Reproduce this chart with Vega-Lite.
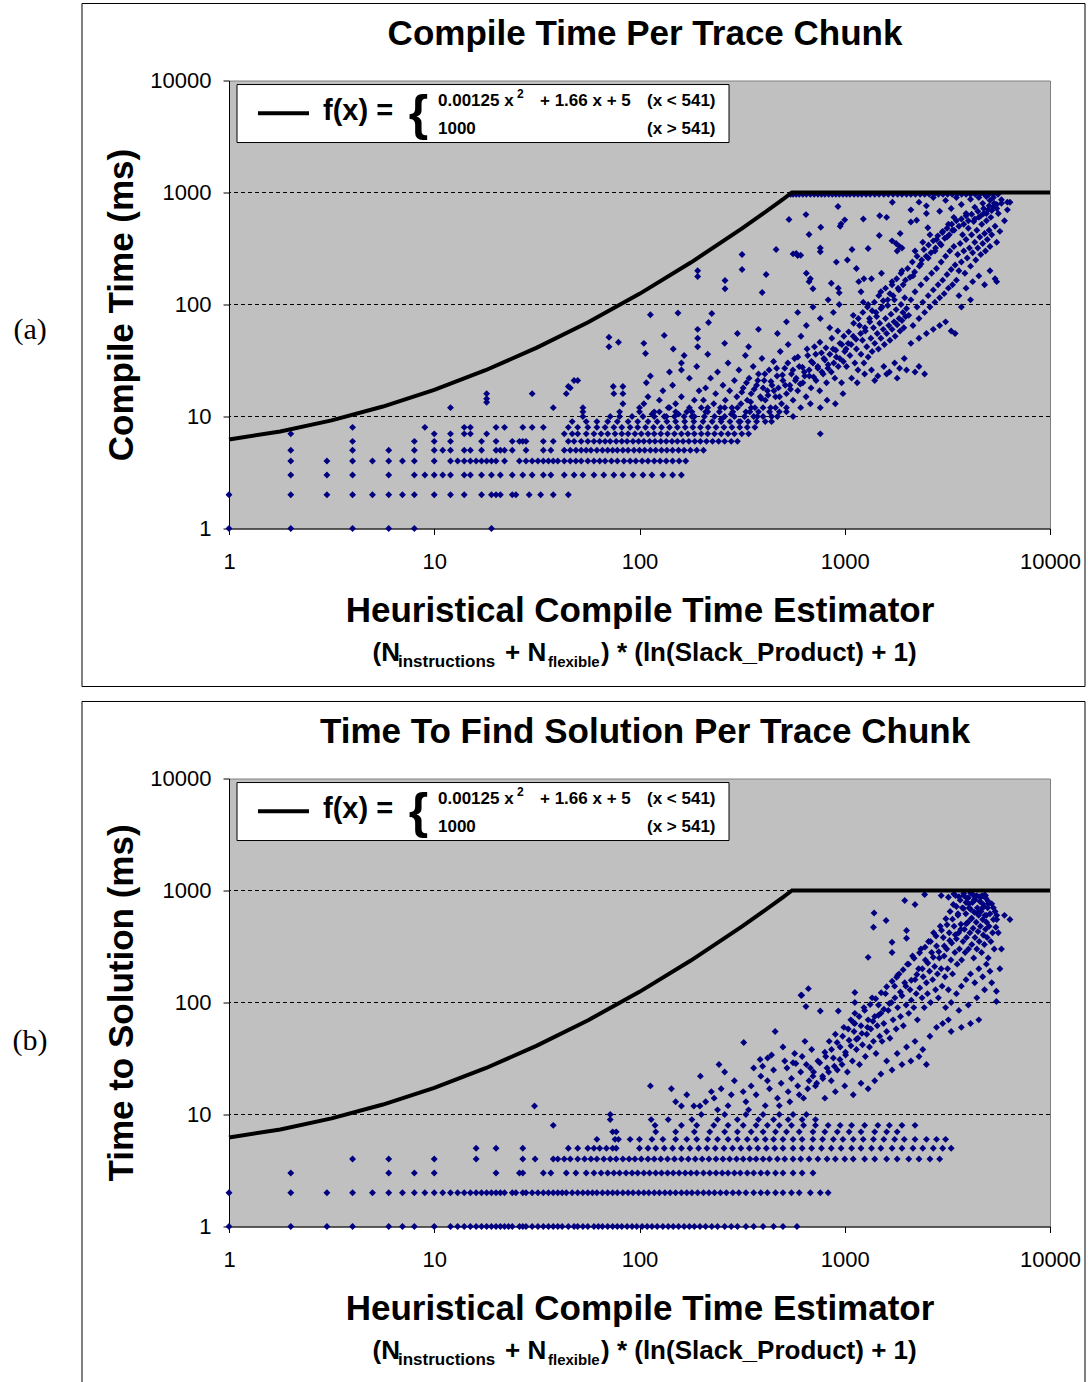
{"$schema":"https://vega.github.io/schema/vega-lite/v6.json","padding":{"left":12,"top":1.5,"right":0,"bottom":0},"background":"white","spacing":11,
"config":{"font":"Liberation Sans","view":{"fill":"#C0C0C0","stroke":"#808080","strokeWidth":1},
"axis":{"labelFont":"Liberation Sans","labelFontSize":22,"labelColor":"#000","labelFlush":false,"labelOverlap":false,"tickColor":"#000","tickSize":6,"tickWidth":1,"domainColor":"#000","domainWidth":1,"grid":false,"titleFont":"Liberation Sans","titleFontSize":35,"titleFontWeight":"bold","titleColor":"#000"},
"axisX":{"labelPadding":17,"titlePadding":21},"axisY":{"labelPadding":12,"titlePadding":10}},
"datasets":{
"curve":[{"x":1,"y":6.24},{"x":1.778,"y":7.36},{"x":3.162,"y":9.23},{"x":5.623,"y":12.27},{"x":10,"y":17.3},{"x":17.78,"y":25.9},{"x":31.62,"y":41.2},{"x":56.23,"y":69.5},{"x":100,"y":124.5},{"x":177.8,"y":236.8},{"x":316.2,"y":477.5},{"x":398.1,"y":643},{"x":501.2,"y":873.7},{"x":553.4,"y":1000},{"x":10000,"y":1000}],
"a":[
{"x":1,"y":1},{"x":2,"y":1},{"x":4,"y":1},{"x":6,"y":1},{"x":8,"y":1},{"x":19,"y":1},
{"x":1,"y":2},{"x":2,"y":2},{"x":3,"y":2},{"x":4,"y":2},{"x":5,"y":2},{"x":6,"y":2},{"x":7,"y":2},{"x":8,"y":2},{"x":10,"y":2},{"x":12,"y":2},{"x":14,"y":2},{"x":17,"y":2},{"x":19,"y":2},{"x":20,"y":2},{"x":21,"y":2},{"x":24,"y":2},{"x":25,"y":2},{"x":29,"y":2},{"x":33,"y":2},{"x":38,"y":2},{"x":45,"y":2},
{"x":2,"y":3},{"x":3,"y":3},{"x":4,"y":3},{"x":6,"y":3},{"x":8,"y":3},{"x":9,"y":3},{"x":10,"y":3},{"x":11,"y":3},{"x":12,"y":3},{"x":14,"y":3},{"x":15,"y":3},{"x":17,"y":3},{"x":19,"y":3},{"x":21,"y":3},{"x":24,"y":3},{"x":27,"y":3},{"x":30,"y":3},{"x":34,"y":3},{"x":37,"y":3},{"x":43,"y":3},{"x":48,"y":3},{"x":53,"y":3},{"x":60,"y":3},{"x":67,"y":3},{"x":75,"y":3},{"x":83,"y":3},{"x":93,"y":3},{"x":104,"y":3},{"x":115,"y":3},{"x":130,"y":3},{"x":145,"y":3},{"x":160,"y":3},
{"x":2,"y":4},{"x":3,"y":4},{"x":4,"y":4},{"x":5,"y":4},{"x":6,"y":4},{"x":7,"y":4},{"x":8,"y":4},{"x":10,"y":4},{"x":12,"y":4},{"x":13,"y":4},{"x":14,"y":4},{"x":15,"y":4},{"x":16,"y":4},{"x":17,"y":4},{"x":18,"y":4},{"x":19,"y":4},{"x":20,"y":4},{"x":22,"y":4},{"x":26,"y":4},{"x":28,"y":4},{"x":30,"y":4},{"x":32,"y":4},{"x":34,"y":4},{"x":36,"y":4},{"x":38,"y":4},{"x":40,"y":4},{"x":43,"y":4},{"x":46,"y":4},{"x":49,"y":4},{"x":52,"y":4},{"x":56,"y":4},{"x":60,"y":4},{"x":64,"y":4},{"x":68,"y":4},{"x":73,"y":4},{"x":78,"y":4},{"x":84,"y":4},{"x":90,"y":4},{"x":96,"y":4},{"x":103,"y":4},{"x":110,"y":4},{"x":118,"y":4},{"x":126,"y":4},{"x":135,"y":4},{"x":145,"y":4},{"x":156,"y":4},{"x":168,"y":4},
{"x":2,"y":5},{"x":4,"y":5},{"x":6,"y":5},{"x":8,"y":5},{"x":10,"y":5},{"x":11,"y":5},{"x":12,"y":5},{"x":14,"y":5},{"x":15,"y":5},{"x":17,"y":5},{"x":20,"y":5},{"x":21,"y":5},{"x":22,"y":5},{"x":24,"y":5},{"x":28,"y":5},{"x":34,"y":5},{"x":37,"y":5},{"x":43,"y":5},{"x":46,"y":5},{"x":49,"y":5},{"x":52,"y":5},{"x":55,"y":5},{"x":58,"y":5},{"x":62,"y":5},{"x":66,"y":5},{"x":70,"y":5},{"x":74,"y":5},{"x":78,"y":5},{"x":83,"y":5},{"x":88,"y":5},{"x":94,"y":5},{"x":100,"y":5},{"x":106,"y":5},{"x":113,"y":5},{"x":120,"y":5},{"x":128,"y":5},{"x":136,"y":5},{"x":145,"y":5},{"x":155,"y":5},{"x":165,"y":5},{"x":177,"y":5},{"x":190,"y":5},{"x":205,"y":5},
{"x":4,"y":6},{"x":8,"y":6},{"x":10,"y":6},{"x":12,"y":6},{"x":17,"y":6},{"x":20,"y":6},{"x":24,"y":6},{"x":26,"y":6},{"x":27,"y":6},{"x":28,"y":6},{"x":34,"y":6},{"x":38,"y":6},{"x":45,"y":6},{"x":48,"y":6},{"x":52,"y":6},{"x":56,"y":6},{"x":60,"y":6},{"x":64,"y":6},{"x":68,"y":6},{"x":72,"y":6},{"x":77,"y":6},{"x":82,"y":6},{"x":87,"y":6},{"x":93,"y":6},{"x":99,"y":6},{"x":105,"y":6},{"x":112,"y":6},{"x":119,"y":6},{"x":127,"y":6},{"x":135,"y":6},{"x":144,"y":6},{"x":153,"y":6},{"x":163,"y":6},{"x":174,"y":6},{"x":186,"y":6},{"x":198,"y":6},{"x":212,"y":6},{"x":227,"y":6},{"x":243,"y":6},{"x":260,"y":6},{"x":280,"y":6},{"x":300,"y":6},
{"x":2,"y":7},{"x":10,"y":7},{"x":12,"y":7},{"x":14,"y":7},{"x":15,"y":7},{"x":18,"y":7},{"x":43,"y":7},{"x":47,"y":7},{"x":50,"y":7},{"x":55,"y":7},{"x":60,"y":7},{"x":65,"y":7},{"x":70,"y":7},{"x":76,"y":7},{"x":82,"y":7},{"x":88,"y":7},{"x":95,"y":7},{"x":102,"y":7},{"x":110,"y":7},{"x":118,"y":7},{"x":127,"y":7},{"x":137,"y":7},{"x":148,"y":7},{"x":160,"y":7},{"x":172,"y":7},{"x":185,"y":7},{"x":200,"y":7},{"x":215,"y":7},{"x":232,"y":7},{"x":250,"y":7},{"x":270,"y":7},{"x":290,"y":7},{"x":315,"y":7},{"x":340,"y":7},
{"x":4,"y":8},{"x":9,"y":8},{"x":14,"y":8},{"x":15,"y":8},{"x":20,"y":8},{"x":22,"y":8},{"x":27,"y":8},{"x":30,"y":8},{"x":34,"y":8},{"x":45,"y":8},{"x":50,"y":8},{"x":56,"y":8},{"x":62,"y":8},{"x":68,"y":8},{"x":75,"y":8},{"x":82,"y":8},{"x":90,"y":8},{"x":98,"y":8},{"x":107,"y":8},{"x":117,"y":8},{"x":128,"y":8},{"x":140,"y":8},{"x":153,"y":8},{"x":167,"y":8},{"x":182,"y":8},{"x":198,"y":8},{"x":216,"y":8},{"x":236,"y":8},{"x":258,"y":8},{"x":282,"y":8},{"x":308,"y":8},{"x":335,"y":8},{"x":365,"y":8},
{"x":47,"y":9},{"x":55,"y":9},{"x":62,"y":9},{"x":70,"y":9},{"x":78,"y":9},{"x":88,"y":9},{"x":98,"y":9},{"x":110,"y":9},{"x":122,"y":9},{"x":136,"y":9},{"x":150,"y":9},{"x":166,"y":9},{"x":184,"y":9},{"x":204,"y":9},{"x":226,"y":9},{"x":250,"y":9},{"x":276,"y":9},{"x":305,"y":9},{"x":338,"y":9},{"x":372,"y":9},{"x":410,"y":9},
{"x":53,"y":10},{"x":72,"y":10},{"x":80,"y":10},{"x":92,"y":10},{"x":104,"y":10},{"x":118,"y":10},{"x":132,"y":10},{"x":148,"y":10},{"x":165,"y":10},{"x":185,"y":10},{"x":207,"y":10},{"x":232,"y":10},{"x":260,"y":10},{"x":290,"y":10},{"x":325,"y":10},{"x":360,"y":10},{"x":400,"y":10},{"x":440,"y":10},
{"x":80,"y":11},{"x":100,"y":11},{"x":125,"y":11},{"x":150,"y":11},{"x":180,"y":11},{"x":210,"y":11},{"x":245,"y":11},{"x":285,"y":11},{"x":330,"y":11},{"x":380,"y":11},{"x":430,"y":11},{"x":480,"y":11},
{"x":12,"y":12},{"x":38,"y":12},{"x":53,"y":12},{"x":100,"y":12},{"x":140,"y":12},{"x":175,"y":12},{"x":215,"y":12},{"x":260,"y":12},{"x":300,"y":12},{"x":350,"y":12},{"x":400,"y":12},{"x":460,"y":12},{"x":520,"y":12},
{"x":18,"y":16},{"x":18,"y":14.4},{"x":18,"y":13.4},{"x":30,"y":16},{"x":44,"y":16},{"x":45,"y":18.5},{"x":48,"y":21},{"x":74.5,"y":18.5},{"x":83,"y":18.5},{"x":83,"y":16},{"x":83,"y":13},{"x":46,"y":18},{"x":50,"y":21},{"x":53,"y":11},{"x":71,"y":51},{"x":71,"y":42},{"x":79,"y":46},{"x":75,"y":16},{"x":113,"y":81},{"x":113,"y":23},{"x":105,"y":45},{"x":107,"y":36.5},{"x":132,"y":53},{"x":146,"y":40},{"x":154,"y":84},{"x":160,"y":30},{"x":160,"y":26},{"x":192,"y":200},{"x":192,"y":178},{"x":261,"y":164},{"x":261,"y":138},{"x":316,"y":280},{"x":316,"y":205},{"x":225,"y":83},{"x":217,"y":69},{"x":192,"y":60},{"x":192,"y":50},{"x":192,"y":42},{"x":414,"y":185},{"x":396,"y":128},{"x":463,"y":310},{"x":535,"y":575},{"x":580,"y":285},{"x":610,"y":275},{"x":647,"y":635},{"x":764,"y":490},{"x":950,"y":500},{"x":960,"y":525},{"x":1000,"y":570},{"x":927,"y":750},{"x":1706,"y":819},{"x":6380,"y":819},{"x":1232,"y":580},{"x":1480,"y":620},{"x":1600,"y":600},{"x":670,"y":422},{"x":1473,"y":413},{"x":1862,"y":430},{"x":2500,"y":650},{"x":2240,"y":565},{"x":2100,"y":545},{"x":2540,"y":485},{"x":1700,"y":370},{"x":1780,"y":350},{"x":1850,"y":330},{"x":1900,"y":320},{"x":1800,"y":300},{"x":1300,"y":316},{"x":1085,"y":310},{"x":760,"y":320},{"x":760,"y":296},{"x":560,"y":283},{"x":590,"y":274},{"x":650,"y":190},{"x":680,"y":170},{"x":700,"y":138},{"x":670,"y":160},{"x":910,"y":239},{"x":1030,"y":250},{"x":1140,"y":210},{"x":1240,"y":170},{"x":930,"y":140},{"x":940,"y":127},{"x":860,"y":155},{"x":1170,"y":160},{"x":1200,"y":130},{"x":1230,"y":105},{"x":1350,"y":170},{"x":1510,"y":190},{"x":760,"y":7},
{"x":105,"y":13},{"x":110,"y":15},{"x":118,"y":11},{"x":125,"y":14},{"x":130,"y":17},{"x":138,"y":12},{"x":145,"y":19},{"x":150,"y":13},{"x":160,"y":15},{"x":170,"y":11},{"x":175,"y":22},{"x":185,"y":14},{"x":195,"y":17},{"x":200,"y":12},{"x":108,"y":20},{"x":140,"y":25},{"x":190,"y":28},{"x":165,"y":35},{"x":115,"y":10.5},{"x":135,"y":10},{"x":155,"y":10.5},{"x":180,"y":10},
{"x":205,"y":14},{"x":210,"y":18},{"x":215,"y":11},{"x":222,"y":22},{"x":230,"y":13},{"x":235,"y":16},{"x":240,"y":25},{"x":248,"y":12},{"x":255,"y":19},{"x":262,"y":14},{"x":270,"y":30},{"x":275,"y":17},{"x":282,"y":12},{"x":290,"y":21},{"x":298,"y":15},{"x":305,"y":26},{"x":312,"y":13},{"x":320,"y":18},{"x":328,"y":35},{"x":335,"y":14},{"x":342,"y":22},{"x":350,"y":16},{"x":358,"y":28},{"x":365,"y":12},{"x":372,"y":19},{"x":380,"y":24},{"x":388,"y":15},{"x":395,"y":33},{"x":400,"y":18},{"x":215,"y":36},{"x":260,"y":45},{"x":300,"y":55},{"x":340,"y":42},{"x":380,"y":60},{"x":250,"y":9.5},{"x":280,"y":10.5},{"x":310,"y":9},{"x":345,"y":11},{"x":375,"y":10},
{"x":405,"y":21},{"x":410,"y":14},{"x":420,"y":17},{"x":428,"y":26},{"x":435,"y":12},{"x":442,"y":19},{"x":450,"y":31},{"x":460,"y":15},{"x":468,"y":23},{"x":475,"y":18},{"x":485,"y":38},{"x":492,"y":13},{"x":500,"y":21},{"x":510,"y":27},{"x":520,"y":16},{"x":530,"y":44},{"x":540,"y":19},{"x":550,"y":24},{"x":560,"y":14},{"x":570,"y":33},{"x":580,"y":22},{"x":590,"y":17},{"x":600,"y":28},{"x":612,"y":52},{"x":625,"y":20},{"x":635,"y":25},{"x":648,"y":15},{"x":660,"y":35},{"x":672,"y":23},{"x":685,"y":18},{"x":700,"y":30},{"x":712,"y":42},{"x":725,"y":21},{"x":740,"y":27},{"x":755,"y":17},{"x":770,"y":37},{"x":785,"y":24},{"x":800,"y":32},{"x":815,"y":20},{"x":830,"y":29},{"x":845,"y":62},{"x":860,"y":25},{"x":878,"y":40},{"x":895,"y":22},{"x":910,"y":34},{"x":930,"y":28},{"x":948,"y":45},{"x":965,"y":20},{"x":985,"y":31},{"x":1000,"y":38},{"x":440,"y":9},{"x":470,"y":10},{"x":520,"y":11},{"x":560,"y":10},{"x":610,"y":12},{"x":680,"y":13},{"x":760,"y":12},{"x":820,"y":14},{"x":900,"y":13},{"x":980,"y":16},{"x":470,"y":55},{"x":520,"y":70},{"x":590,"y":85},{"x":650,"y":65},{"x":700,"y":95},{"x":760,"y":75},{"x":830,"y":110},{"x":880,"y":85},{"x":940,"y":100},
{"x":1020,"y":28},{"x":1040,"y":45},{"x":1060,"y":35},{"x":1080,"y":22},{"x":1100,"y":52},{"x":1120,"y":30},{"x":1140,"y":40},{"x":1160,"y":26},{"x":1180,"y":65},{"x":1200,"y":36},{"x":1220,"y":48},{"x":1240,"y":30},{"x":1260,"y":58},{"x":1280,"y":42},{"x":1300,"y":34},{"x":1320,"y":75},{"x":1340,"y":50},{"x":1360,"y":38},{"x":1380,"y":62},{"x":1400,"y":45},{"x":1420,"y":85},{"x":1440,"y":55},{"x":1460,"y":40},{"x":1480,"y":68},{"x":1500,"y":50},{"x":1520,"y":95},{"x":1540,"y":60},{"x":1560,"y":44},{"x":1580,"y":75},{"x":1600,"y":55},{"x":1620,"y":110},{"x":1640,"y":65},{"x":1660,"y":48},{"x":1680,"y":82},{"x":1700,"y":60},{"x":1720,"y":120},{"x":1740,"y":70},{"x":1760,"y":52},{"x":1780,"y":90},{"x":1800,"y":66},{"x":1820,"y":140},{"x":1840,"y":75},{"x":1860,"y":58},{"x":1880,"y":100},{"x":1900,"y":72},{"x":1920,"y":85},{"x":1940,"y":62},{"x":1960,"y":115},{"x":1980,"y":78},{"x":2000,"y":92},{"x":1150,"y":20},{"x":1250,"y":24},{"x":1350,"y":26},{"x":1450,"y":23},{"x":1550,"y":28},{"x":1650,"y":25},{"x":1750,"y":30},{"x":1850,"y":27},{"x":1950,"y":33},{"x":1100,"y":80},{"x":1300,"y":100},{"x":1500,"y":130},{"x":1700,"y":160},{"x":1900,"y":200},{"x":1400,"y":21},{"x":1600,"y":24},{"x":1800,"y":22},{"x":2000,"y":26},{"x":2200,"y":25},{"x":2450,"y":24},{"x":2300,"y":28},
{"x":2050,"y":80},{"x":2100,"y":110},{"x":2150,"y":65},{"x":2200,"y":130},{"x":2250,"y":95},{"x":2300,"y":75},{"x":2350,"y":150},{"x":2400,"y":105},{"x":2450,"y":85},{"x":2500,"y":170},{"x":2550,"y":120},{"x":2600,"y":95},{"x":2650,"y":190},{"x":2700,"y":135},{"x":2750,"y":105},{"x":2800,"y":210},{"x":2850,"y":150},{"x":2900,"y":115},{"x":2950,"y":240},{"x":3000,"y":165},{"x":3050,"y":125},{"x":3100,"y":270},{"x":3150,"y":185},{"x":3200,"y":140},{"x":3250,"y":300},{"x":3300,"y":205},{"x":3350,"y":150},{"x":3400,"y":330},{"x":3450,"y":225},{"x":3500,"y":165},{"x":2100,"y":45},{"x":2300,"y":50},{"x":2500,"y":55},{"x":2700,"y":60},{"x":2900,"y":65},{"x":3100,"y":70},{"x":3300,"y":58},{"x":3450,"y":55},{"x":2200,"y":300},{"x":2400,"y":360},{"x":2600,"y":420},{"x":2800,"y":380},{"x":3000,"y":450},{"x":3200,"y":520},{"x":3400,"y":600},{"x":2150,"y":180},{"x":2350,"y":230},{"x":2550,"y":260},{"x":2750,"y":300},{"x":2950,"y":340},{"x":3150,"y":400},{"x":3350,"y":460},
{"x":3550,"y":280},{"x":3600,"y":200},{"x":3650,"y":350},{"x":3700,"y":240},{"x":3750,"y":420},{"x":3800,"y":300},{"x":3850,"y":190},{"x":3900,"y":380},{"x":3950,"y":260},{"x":4000,"y":480},{"x":4050,"y":320},{"x":4100,"y":220},{"x":4150,"y":420},{"x":4200,"y":290},{"x":4250,"y":550},{"x":4300,"y":360},{"x":4350,"y":250},{"x":4400,"y":460},{"x":4450,"y":320},{"x":4500,"y":600},{"x":4550,"y":400},{"x":4600,"y":280},{"x":4650,"y":520},{"x":4700,"y":350},{"x":4750,"y":650},{"x":4800,"y":430},{"x":4850,"y":300},{"x":4900,"y":560},{"x":4950,"y":380},{"x":5000,"y":700},{"x":5050,"y":460},{"x":5100,"y":330},{"x":5150,"y":600},{"x":5200,"y":420},{"x":5300,"y":750},{"x":5400,"y":500},{"x":5500,"y":360},{"x":5600,"y":650},{"x":5700,"y":450},{"x":5800,"y":800},{"x":6000,"y":560},{"x":6200,"y":700},{"x":3600,"y":120},{"x":3900,"y":140},{"x":4200,"y":160},{"x":4500,"y":180},{"x":4800,"y":150},{"x":5100,"y":200},{"x":5400,"y":170},{"x":5500,"y":160},{"x":3700,"y":95},{"x":4100,"y":110},
{"x":2100,"y":700},{"x":2300,"y":820},{"x":2500,"y":760},{"x":2700,"y":900},{"x":2900,"y":680},{"x":3100,"y":850},{"x":3300,"y":720},{"x":3500,"y":900},{"x":3700,"y":780},{"x":3900,"y":650},{"x":4100,"y":870},{"x":4300,"y":740},{"x":4500,"y":900},{"x":4700,"y":800},{"x":4900,"y":920},{"x":5100,"y":850},{"x":5300,"y":900},{"x":5500,"y":780},{"x":5800,"y":860},{"x":6200,"y":820},
{"x":315,"y":16.5},{"x":332,"y":20},{"x":348,"y":13.5},{"x":362,"y":17.5},{"x":377,"y":21},{"x":392,"y":14.5},{"x":408,"y":24},{"x":423,"y":15.5},{"x":437,"y":20.5},{"x":452,"y":17},{"x":466,"y":27},{"x":481,"y":15},{"x":497,"y":23.5},{"x":513,"y":19},{"x":528,"y":30},{"x":544,"y":17.5},{"x":559,"y":26},{"x":575,"y":21},{"x":591,"y":34},{"x":607,"y":19.5},{"x":622,"y":27.5},{"x":638,"y":23},{"x":655,"y":40},{"x":671,"y":26},{"x":688,"y":31},{"x":705,"y":22.5},{"x":722,"y":36},{"x":739,"y":28},{"x":757,"y":46},{"x":774,"y":25},{"x":792,"y":33},{"x":810,"y":41},{"x":828,"y":27},{"x":846,"y":36},{"x":865,"y":50},{"x":884,"y":30},{"x":904,"y":39},{"x":925,"y":58},{"x":946,"y":33},{"x":968,"y":44},{"x":990,"y":52},{"x":1015,"y":40},{"x":1045,"y":57},{"x":1075,"y":44},{"x":1105,"y":68},{"x":1135,"y":49},{"x":1165,"y":75},{"x":1195,"y":55},{"x":1225,"y":85},{"x":1255,"y":62},{"x":1290,"y":95},{"x":1325,"y":70},{"x":1360,"y":88},{"x":1395,"y":105},{"x":1430,"y":78},{"x":1465,"y":120},{"x":1500,"y":92},{"x":1540,"y":108},{"x":1580,"y":140},{"x":1620,"y":98},{"x":1660,"y":125},{"x":1700,"y":150},{"x":1745,"y":110},{"x":1790,"y":170},{"x":1835,"y":135},{"x":1880,"y":190},{"x":1925,"y":150},{"x":1975,"y":165},{"x":2025,"y":210},{"x":2080,"y":175},{"x":2135,"y":240},{"x":2190,"y":195},{"x":2250,"y":270},{"x":2310,"y":220},{"x":2370,"y":250},{"x":2430,"y":310},{"x":2495,"y":270},{"x":2560,"y":340},{"x":2630,"y":290},{"x":2700,"y":370},{"x":2770,"y":320},{"x":2840,"y":410},{"x":2910,"y":350},{"x":2990,"y":440},{"x":3070,"y":390},{"x":3150,"y":480},{"x":3230,"y":420},{"x":3320,"y":520},{"x":3410,"y":460},{"x":3500,"y":560},{"x":3600,"y":500},{"x":3700,"y":580},{"x":3800,"y":520},{"x":3900,"y":620},{"x":4000,"y":560},{"x":4150,"y":640},{"x":4300,"y":580},{"x":4450,"y":680},{"x":4600,"y":620},{"x":4750,"y":720},{"x":4900,"y":650},{"x":5050,"y":760},{"x":5200,"y":690},{"x":5350,"y":800},{"x":5500,"y":720},
{"x":545,"y":965},{"x":560,"y":965},{"x":580,"y":965},{"x":600,"y":965},{"x":625,"y":965},{"x":650,"y":965},{"x":680,"y":965},{"x":710,"y":965},{"x":740,"y":965},{"x":770,"y":965},{"x":800,"y":965},{"x":835,"y":965},{"x":870,"y":965},{"x":905,"y":965},{"x":940,"y":965},{"x":980,"y":965},{"x":1020,"y":965},{"x":1060,"y":965},{"x":1110,"y":965},{"x":1160,"y":965},{"x":1210,"y":965},{"x":1270,"y":965},{"x":1330,"y":965},{"x":1400,"y":965},{"x":1470,"y":965},{"x":1550,"y":965},{"x":1630,"y":965},{"x":1720,"y":965},{"x":1810,"y":965},{"x":1900,"y":965},{"x":2000,"y":965},{"x":2100,"y":965},{"x":2210,"y":965},{"x":2330,"y":965},{"x":2450,"y":965},{"x":2580,"y":965},{"x":2720,"y":965},{"x":2860,"y":965},{"x":3010,"y":965},{"x":3170,"y":965},{"x":3340,"y":965},{"x":3520,"y":965},{"x":3710,"y":965},{"x":3900,"y":965},{"x":4100,"y":965},{"x":4320,"y":965},{"x":4550,"y":965},{"x":4790,"y":965},{"x":5040,"y":965},{"x":5300,"y":965},{"x":5580,"y":965}
],
"b":[
{"x":1,"y":1},{"x":2,"y":1},{"x":3,"y":1},{"x":4,"y":1},{"x":6,"y":1},{"x":7,"y":1},{"x":8,"y":1},{"x":10,"y":1},{"x":12,"y":1},{"x":13,"y":1},{"x":14,"y":1},{"x":15,"y":1},{"x":16,"y":1},{"x":17,"y":1},{"x":18,"y":1},{"x":19,"y":1},{"x":20,"y":1},{"x":21,"y":1},{"x":22,"y":1},{"x":23,"y":1},{"x":24,"y":1},{"x":26,"y":1},{"x":27,"y":1},{"x":28,"y":1},{"x":30,"y":1},{"x":32,"y":1},{"x":34,"y":1},{"x":36,"y":1},{"x":38,"y":1},{"x":40,"y":1},{"x":42,"y":1},{"x":45,"y":1},{"x":48,"y":1},{"x":50,"y":1},{"x":53,"y":1},{"x":56,"y":1},{"x":60,"y":1},{"x":63,"y":1},{"x":66,"y":1},{"x":70,"y":1},{"x":74,"y":1},{"x":78,"y":1},{"x":82,"y":1},{"x":87,"y":1},{"x":92,"y":1},{"x":97,"y":1},{"x":103,"y":1},{"x":109,"y":1},{"x":115,"y":1},{"x":122,"y":1},{"x":130,"y":1},{"x":138,"y":1},{"x":146,"y":1},{"x":155,"y":1},{"x":165,"y":1},{"x":175,"y":1},{"x":185,"y":1},{"x":197,"y":1},{"x":210,"y":1},{"x":225,"y":1},{"x":240,"y":1},{"x":260,"y":1},{"x":280,"y":1},{"x":300,"y":1},{"x":330,"y":1},{"x":360,"y":1},{"x":400,"y":1},{"x":450,"y":1},{"x":500,"y":1},{"x":585,"y":1},
{"x":1,"y":2},{"x":2,"y":2},{"x":3,"y":2},{"x":4,"y":2},{"x":5,"y":2},{"x":6,"y":2},{"x":7,"y":2},{"x":8,"y":2},{"x":9,"y":2},{"x":10,"y":2},{"x":11,"y":2},{"x":12,"y":2},{"x":13,"y":2},{"x":14,"y":2},{"x":15,"y":2},{"x":16,"y":2},{"x":17,"y":2},{"x":18,"y":2},{"x":19,"y":2},{"x":20,"y":2},{"x":21,"y":2},{"x":22,"y":2},{"x":24,"y":2},{"x":25,"y":2},{"x":27,"y":2},{"x":28,"y":2},{"x":30,"y":2},{"x":32,"y":2},{"x":34,"y":2},{"x":36,"y":2},{"x":38,"y":2},{"x":40,"y":2},{"x":42,"y":2},{"x":44,"y":2},{"x":47,"y":2},{"x":50,"y":2},{"x":53,"y":2},{"x":56,"y":2},{"x":59,"y":2},{"x":62,"y":2},{"x":66,"y":2},{"x":70,"y":2},{"x":74,"y":2},{"x":78,"y":2},{"x":83,"y":2},{"x":88,"y":2},{"x":93,"y":2},{"x":99,"y":2},{"x":105,"y":2},{"x":111,"y":2},{"x":118,"y":2},{"x":125,"y":2},{"x":133,"y":2},{"x":141,"y":2},{"x":150,"y":2},{"x":160,"y":2},{"x":170,"y":2},{"x":180,"y":2},{"x":192,"y":2},{"x":205,"y":2},{"x":218,"y":2},{"x":232,"y":2},{"x":248,"y":2},{"x":265,"y":2},{"x":285,"y":2},{"x":305,"y":2},{"x":330,"y":2},{"x":360,"y":2},{"x":390,"y":2},{"x":420,"y":2},{"x":460,"y":2},{"x":500,"y":2},{"x":550,"y":2},{"x":600,"y":2},{"x":680,"y":2},{"x":760,"y":2},{"x":830,"y":2},
{"x":2,"y":3},{"x":6,"y":3},{"x":8,"y":3},{"x":10,"y":3},{"x":20,"y":3},{"x":26,"y":3},{"x":27,"y":3},{"x":34,"y":3},{"x":37,"y":3},{"x":44,"y":3},{"x":49,"y":3},{"x":55,"y":3},{"x":60,"y":3},{"x":65,"y":3},{"x":70,"y":3},{"x":75,"y":3},{"x":80,"y":3},{"x":86,"y":3},{"x":92,"y":3},{"x":98,"y":3},{"x":105,"y":3},{"x":112,"y":3},{"x":120,"y":3},{"x":128,"y":3},{"x":137,"y":3},{"x":146,"y":3},{"x":156,"y":3},{"x":167,"y":3},{"x":178,"y":3},{"x":190,"y":3},{"x":205,"y":3},{"x":220,"y":3},{"x":236,"y":3},{"x":253,"y":3},{"x":270,"y":3},{"x":290,"y":3},{"x":310,"y":3},{"x":335,"y":3},{"x":360,"y":3},{"x":390,"y":3},{"x":420,"y":3},{"x":460,"y":3},{"x":500,"y":3},{"x":560,"y":3},{"x":620,"y":3},{"x":700,"y":3},
{"x":4,"y":4},{"x":6,"y":4},{"x":10,"y":4},{"x":16,"y":4},{"x":27,"y":4},{"x":31,"y":4},{"x":38,"y":4},{"x":40,"y":4},{"x":43,"y":4},{"x":46,"y":4},{"x":50,"y":4},{"x":54,"y":4},{"x":58,"y":4},{"x":62,"y":4},{"x":67,"y":4},{"x":72,"y":4},{"x":77,"y":4},{"x":83,"y":4},{"x":89,"y":4},{"x":95,"y":4},{"x":102,"y":4},{"x":110,"y":4},{"x":118,"y":4},{"x":127,"y":4},{"x":137,"y":4},{"x":148,"y":4},{"x":160,"y":4},{"x":173,"y":4},{"x":187,"y":4},{"x":202,"y":4},{"x":218,"y":4},{"x":236,"y":4},{"x":255,"y":4},{"x":275,"y":4},{"x":297,"y":4},{"x":320,"y":4},{"x":345,"y":4},{"x":370,"y":4},{"x":400,"y":4},{"x":430,"y":4},{"x":470,"y":4},{"x":510,"y":4},{"x":560,"y":4},{"x":610,"y":4},{"x":670,"y":4},{"x":740,"y":4},{"x":820,"y":4},{"x":900,"y":4},{"x":1000,"y":4},{"x":1100,"y":4},{"x":1250,"y":4},{"x":1400,"y":4},{"x":1600,"y":4},{"x":1800,"y":4},{"x":2050,"y":4},{"x":2300,"y":4},{"x":2600,"y":4},{"x":2900,"y":4},
{"x":16,"y":5},{"x":20,"y":5},{"x":27,"y":5},{"x":45,"y":5},{"x":50,"y":5},{"x":56,"y":5},{"x":60,"y":5},{"x":64,"y":5},{"x":69,"y":5},{"x":74,"y":5},{"x":77,"y":5},{"x":100,"y":5},{"x":110,"y":5},{"x":120,"y":5},{"x":132,"y":5},{"x":145,"y":5},{"x":160,"y":5},{"x":176,"y":5},{"x":194,"y":5},{"x":213,"y":5},{"x":234,"y":5},{"x":258,"y":5},{"x":284,"y":5},{"x":312,"y":5},{"x":343,"y":5},{"x":377,"y":5},{"x":415,"y":5},{"x":456,"y":5},{"x":500,"y":5},{"x":560,"y":5},{"x":620,"y":5},{"x":690,"y":5},{"x":770,"y":5},{"x":860,"y":5},{"x":960,"y":5},{"x":1080,"y":5},{"x":1200,"y":5},{"x":1350,"y":5},{"x":1500,"y":5},{"x":1700,"y":5},{"x":1900,"y":5},{"x":2150,"y":5},{"x":2400,"y":5},{"x":2700,"y":5},{"x":3000,"y":5},{"x":3300,"y":5},
{"x":62,"y":6},{"x":76,"y":6},{"x":79,"y":6},{"x":90,"y":6},{"x":100,"y":6},{"x":115,"y":6},{"x":130,"y":6},{"x":150,"y":6},{"x":170,"y":6},{"x":190,"y":6},{"x":215,"y":6},{"x":240,"y":6},{"x":270,"y":6},{"x":300,"y":6},{"x":335,"y":6},{"x":370,"y":6},{"x":410,"y":6},{"x":450,"y":6},{"x":500,"y":6},{"x":560,"y":6},{"x":620,"y":6},{"x":700,"y":6},{"x":780,"y":6},{"x":880,"y":6},{"x":980,"y":6},{"x":1100,"y":6},{"x":1230,"y":6},{"x":1380,"y":6},{"x":1550,"y":6},{"x":1750,"y":6},{"x":1950,"y":6},{"x":2200,"y":6},{"x":2500,"y":6},{"x":2800,"y":6},{"x":3100,"y":6},
{"x":74,"y":7},{"x":120,"y":7},{"x":150,"y":7},{"x":185,"y":7},{"x":220,"y":7},{"x":260,"y":7},{"x":300,"y":7},{"x":350,"y":7},{"x":400,"y":7},{"x":460,"y":7},{"x":520,"y":7},{"x":600,"y":7},{"x":700,"y":7},{"x":800,"y":7},{"x":920,"y":7},{"x":1050,"y":7},{"x":1200,"y":7},{"x":1400,"y":7},{"x":1600,"y":7},{"x":1800,"y":7},
{"x":38,"y":8},{"x":119,"y":8},{"x":160,"y":8},{"x":190,"y":8},{"x":230,"y":8},{"x":270,"y":8},{"x":320,"y":8},{"x":370,"y":8},{"x":420,"y":8},{"x":480,"y":8},{"x":550,"y":8},{"x":630,"y":8},{"x":720,"y":8},{"x":830,"y":8},{"x":950,"y":8},{"x":1080,"y":8},{"x":1250,"y":8},{"x":1450,"y":8},{"x":1650,"y":8},{"x":1900,"y":8},{"x":2200,"y":8},
{"x":72,"y":9},{"x":114,"y":9},{"x":138,"y":9},{"x":180,"y":9},{"x":240,"y":9},{"x":300,"y":9},{"x":380,"y":9},{"x":450,"y":9},{"x":530,"y":9},{"x":620,"y":9},{"x":720,"y":9},
{"x":72,"y":10},{"x":200,"y":10},{"x":260,"y":10},{"x":330,"y":10},{"x":400,"y":10},{"x":480,"y":10},{"x":560,"y":10},{"x":650,"y":10},
{"x":30.8,"y":11.9},{"x":77,"y":7},{"x":113,"y":18},{"x":143,"y":17},{"x":160,"y":11.9},{"x":184,"y":11.9},{"x":197,"y":11.9},{"x":198,"y":22},{"x":224,"y":16},{"x":231,"y":14},{"x":244,"y":28},{"x":150,"y":13},{"x":170,"y":15},{"x":210,"y":13},{"x":250,"y":17},{"x":270,"y":12},{"x":290,"y":20},{"x":280,"y":15},{"x":260,"y":24},{"x":240,"y":11},{"x":322,"y":44},{"x":387,"y":31},{"x":421,"y":32},{"x":398,"y":27},{"x":458,"y":55},{"x":578,"y":28.5},{"x":523,"y":26},{"x":617,"y":116},{"x":665,"y":133},{"x":647,"y":92},{"x":640,"y":45},{"x":612,"y":116},{"x":760,"y":84},{"x":930,"y":84},{"x":330,"y":13},{"x":350,"y":18},{"x":370,"y":15},{"x":390,"y":22},{"x":410,"y":12},{"x":430,"y":17},{"x":450,"y":25},{"x":470,"y":14},{"x":490,"y":19},{"x":510,"y":30},{"x":530,"y":16},{"x":550,"y":21},{"x":570,"y":35},{"x":590,"y":18},{"x":610,"y":24},{"x":630,"y":14},{"x":650,"y":28},{"x":670,"y":20},{"x":690,"y":38},{"x":340,"y":11},{"x":360,"y":26},{"x":420,"y":20},{"x":480,"y":12},{"x":540,"y":13},{"x":600,"y":15},{"x":660,"y":17},{"x":700,"y":22},{"x":320,"y":16},{"x":440,"y":34},{"x":500,"y":40},{"x":560,"y":29},{"x":620,"y":33},{"x":680,"y":26},
{"x":720,"y":18},{"x":740,"y":30},{"x":780,"y":22},{"x":800,"y":36},{"x":820,"y":26},{"x":840,"y":45},{"x":860,"y":20},{"x":880,"y":32},{"x":900,"y":52},{"x":920,"y":25},{"x":950,"y":40},{"x":970,"y":28},{"x":990,"y":60},{"x":1010,"y":34},{"x":1030,"y":24},{"x":1050,"y":46},{"x":1070,"y":70},{"x":1090,"y":30},{"x":1110,"y":55},{"x":1120,"y":123},{"x":1120,"y":100},{"x":1120,"y":80},{"x":1120,"y":65},{"x":1140,"y":38},{"x":1160,"y":48},{"x":1180,"y":28},{"x":1200,"y":62},{"x":1220,"y":42},{"x":1240,"y":90},{"x":1260,"y":33},{"x":1280,"y":52},{"x":1300,"y":253},{"x":1300,"y":70},{"x":1320,"y":40},{"x":1340,"y":58},{"x":1360,"y":110},{"x":1380,"y":45},{"x":1400,"y":75},{"x":1420,"y":35},{"x":1440,"y":62},{"x":1460,"y":95},{"x":1480,"y":50},{"x":1500,"y":80},{"x":800,"y":14},{"x":900,"y":16},{"x":1000,"y":18},{"x":1100,"y":15},{"x":1200,"y":19},{"x":1300,"y":17},{"x":1400,"y":20},{"x":1500,"y":23},
{"x":1390,"y":630},{"x":1380,"y":470},{"x":1590,"y":540},{"x":1790,"y":168},{"x":1700,"y":345},{"x":1700,"y":280},{"x":2000,"y":440},{"x":2000,"y":375},{"x":1960,"y":815},{"x":2200,"y":750},{"x":2450,"y":920},{"x":1520,"y":45},{"x":1550,"y":65},{"x":1580,"y":120},{"x":1600,"y":55},{"x":1630,"y":85},{"x":1660,"y":48},{"x":1690,"y":100},{"x":1720,"y":70},{"x":1750,"y":140},{"x":1780,"y":58},{"x":1810,"y":90},{"x":1840,"y":180},{"x":1870,"y":75},{"x":1900,"y":115},{"x":1930,"y":62},{"x":1960,"y":150},{"x":1990,"y":95},{"x":2020,"y":220},{"x":2050,"y":80},{"x":2080,"y":130},{"x":2110,"y":105},{"x":2140,"y":260},{"x":2170,"y":90},{"x":2200,"y":160},{"x":2230,"y":120},{"x":2260,"y":70},{"x":2290,"y":200},{"x":2320,"y":135},{"x":2350,"y":300},{"x":2380,"y":110},{"x":2410,"y":170},{"x":2440,"y":90},{"x":2470,"y":240},{"x":2500,"y":150},{"x":2530,"y":120},{"x":2560,"y":350},{"x":2590,"y":190},{"x":2620,"y":100},{"x":2650,"y":280},{"x":2680,"y":160},{"x":2710,"y":420},{"x":2740,"y":210},{"x":2770,"y":130},{"x":2800,"y":320},{"x":2830,"y":180},{"x":2860,"y":110},{"x":2890,"y":250},{"x":2920,"y":480},{"x":2950,"y":200},{"x":2980,"y":140},{"x":1600,"y":30},{"x":1800,"y":35},{"x":2000,"y":40},{"x":2200,"y":45},{"x":2400,"y":38},{"x":2600,"y":50},{"x":2800,"y":60},{"x":3000,"y":65},{"x":1700,"y":25},{"x":1900,"y":28},{"x":2100,"y":30},{"x":2300,"y":33},{"x":2500,"y":28},
{"x":3020,"y":380},{"x":3050,"y":260},{"x":3080,"y":170},{"x":3110,"y":560},{"x":3140,"y":300},{"x":3170,"y":200},{"x":3200,"y":130},{"x":3230,"y":420},{"x":3260,"y":650},{"x":3290,"y":240},{"x":3320,"y":340},{"x":3350,"y":180},{"x":3380,"y":750},{"x":3410,"y":480},{"x":3440,"y":280},{"x":3470,"y":900},{"x":3500,"y":370},{"x":3530,"y":220},{"x":3560,"y":600},{"x":3590,"y":420},{"x":3620,"y":300},{"x":3650,"y":820},{"x":3680,"y":500},{"x":3710,"y":240},{"x":3740,"y":700},{"x":3770,"y":350},{"x":3800,"y":900},{"x":3830,"y":450},{"x":3860,"y":280},{"x":3890,"y":620},{"x":3920,"y":380},{"x":3950,"y":850},{"x":3980,"y":520},{"x":4010,"y":300},{"x":4040,"y":700},{"x":4070,"y":420},{"x":4100,"y":950},{"x":4130,"y":560},{"x":4160,"y":330},{"x":4190,"y":780},{"x":4220,"y":460},{"x":4250,"y":250},{"x":4280,"y":640},{"x":4310,"y":380},{"x":4340,"y":880},{"x":4370,"y":520},{"x":4400,"y":300},{"x":4430,"y":700},{"x":4460,"y":430},{"x":4490,"y":600},{"x":4520,"y":350},{"x":4550,"y":800},{"x":4580,"y":480},{"x":4610,"y":650},{"x":4640,"y":280},{"x":4670,"y":900},{"x":4700,"y":550},{"x":4730,"y":400},{"x":4760,"y":720},{"x":4790,"y":330},{"x":4820,"y":600},{"x":4850,"y":450},{"x":4880,"y":850},{"x":4910,"y":520},{"x":4940,"y":380},{"x":4970,"y":700},{"x":5000,"y":250},{"x":5050,"y":480},{"x":5100,"y":620},{"x":5150,"y":350},{"x":5200,"y":760},{"x":5250,"y":420},{"x":5300,"y":550},{"x":5350,"y":300},{"x":5400,"y":650},{"x":5450,"y":470},{"x":5500,"y":550},{"x":5600,"y":420},{"x":3100,"y":90},{"x":3300,"y":100},{"x":3500,"y":120},{"x":3700,"y":140},{"x":3900,"y":160},{"x":4100,"y":180},{"x":4300,"y":150},{"x":4500,"y":200},{"x":4700,"y":170},{"x":4900,"y":220},{"x":5100,"y":190},{"x":3200,"y":70},{"x":3600,"y":85},{"x":4000,"y":95},{"x":4400,"y":110},{"x":4800,"y":130},{"x":5200,"y":150},{"x":3300,"y":55},{"x":3700,"y":60},{"x":4100,"y":65},{"x":4500,"y":70},{"x":6380,"y":550},{"x":6000,"y":600},{"x":5480,"y":126},{"x":5480,"y":102},{"x":5800,"y":300},{"x":5700,"y":200},
{"x":2950,"y":900},{"x":3200,"y":870},{"x":3400,"y":930},{"x":3600,"y":880},{"x":3800,"y":940},{"x":4000,"y":860},{"x":4200,"y":920},{"x":4400,"y":900},{"x":4600,"y":870},{"x":4800,"y":910},{"x":3900,"y":780},{"x":4300,"y":820},{"x":4700,"y":760},{"x":5000,"y":800},{"x":3500,"y":720},{"x":4100,"y":680},{"x":4500,"y":640},{"x":4900,"y":600},{"x":5300,"y":700},{"x":5500,"y":600},
{"x":705,"y":24},{"x":730,"y":19},{"x":755,"y":29},{"x":782,"y":21},{"x":808,"y":33},{"x":835,"y":24},{"x":862,"y":38},{"x":890,"y":27},{"x":918,"y":44},{"x":947,"y":31},{"x":977,"y":50},{"x":1008,"y":36},{"x":1040,"y":58},{"x":1072,"y":41},{"x":1105,"y":66},{"x":1140,"y":47},{"x":1175,"y":75},{"x":1212,"y":53},{"x":1250,"y":85},{"x":1290,"y":60},{"x":1330,"y":96},{"x":1372,"y":68},{"x":1415,"y":108},{"x":1460,"y":77},{"x":1505,"y":122},{"x":1552,"y":87},{"x":1600,"y":138},{"x":1650,"y":98},{"x":1702,"y":155},{"x":1755,"y":110},{"x":1810,"y":175},{"x":1867,"y":124},{"x":1925,"y":196},{"x":1985,"y":140},{"x":2047,"y":220},{"x":2110,"y":158},{"x":2177,"y":248},{"x":2245,"y":178},{"x":2315,"y":278},{"x":2387,"y":200},{"x":2462,"y":312},{"x":2539,"y":225},{"x":2618,"y":350},{"x":2700,"y":253},{"x":2785,"y":393},{"x":2872,"y":284},{"x":2962,"y":441},{"x":3055,"y":319},{"x":3150,"y":495},{"x":3249,"y":358},{"x":3350,"y":555},{"x":3455,"y":402},{"x":3563,"y":620},{"x":3675,"y":450},{"x":3790,"y":690},{"x":3908,"y":505},{"x":4030,"y":760},{"x":4157,"y":565},{"x":4287,"y":830},{"x":4420,"y":630},{"x":4560,"y":880},{"x":4700,"y":700},{"x":4850,"y":900},{"x":5000,"y":760}
]},
"vconcat":[
{"width":821,"height":448,"layer":[
{"data":{"values":[{}]},"mark":{"type":"rect","fill":"transparent","stroke":"#000","strokeWidth":1},"encoding":{"x":{"datum":0.1922,"type":"quantitative","scale":{"type":"log","domain":[1,10000]}},"x2":{"datum":14810},"y":{"datum":48700,"type":"quantitative","scale":{"type":"log","domain":[1,10000]}},"y2":{"datum":0.03883}}},
{"data":{"values":[{"g":10},{"g":100},{"g":1000}]},"mark":{"type":"rule","color":"#000","strokeWidth":1,"strokeDash":[4,3]},"encoding":{"y":{"field":"g","type":"quantitative","scale":{"type":"log","domain":[1,10000]}}}},
{"data":{"name":"a"},"mark":{"type":"point","shape":"diamond","filled":true,"size":48,"color":"#000080","opacity":1,"strokeWidth":0},"encoding":{"x":{"field":"x","type":"quantitative","scale":{"type":"log","domain":[1,10000]},"axis":{"title":"Heuristical Compile Time Estimator","values":[1,10,100,1000,10000],"format":"d"}},"y":{"field":"y","type":"quantitative","scale":{"type":"log","domain":[1,10000]},"axis":{"title":"Compile Time (ms)","values":[1,10,100,1000,10000],"format":"d"}}}},
{"data":{"name":"curve"},"mark":{"type":"line","color":"#000","strokeWidth":4},"encoding":{"x":{"field":"x","type":"quantitative","scale":{"type":"log","domain":[1,10000]}},"y":{"field":"y","type":"quantitative","scale":{"type":"log","domain":[1,10000]}}}},
{"data":{"values":[{}]},"mark":{"type":"rect","fill":"#FFFFFF","stroke":"#000","strokeWidth":1},"encoding":{"x":{"datum":1.094,"type":"quantitative","scale":{"type":"log","domain":[1,10000]}},"x2":{"datum":273},"y":{"datum":9204,"type":"quantitative","scale":{"type":"log","domain":[1,10000]}},"y2":{"datum":2794}}},
{"data":{"values":[{}]},"mark":{"type":"rule","color":"#000","strokeWidth":4},"encoding":{"x":{"datum":1.384,"type":"quantitative","scale":{"type":"log","domain":[1,10000]}},"x2":{"datum":2.453},"y":{"datum":5105,"type":"quantitative","scale":{"type":"log","domain":[1,10000]}}}},
{"data":{"values":[{}]},"mark":{"type":"text","text":"f(x) =","fontSize":29,"fontWeight":"bold","align":"left","baseline":"alphabetic","color":"#000"},"encoding":{"x":{"datum":2.871,"type":"quantitative","scale":{"type":"log","domain":[1,10000]}},"y":{"datum":4395,"type":"quantitative","scale":{"type":"log","domain":[1,10000]}}}},
{"data":{"values":[{}]},"mark":{"type":"text","text":"{","fontSize":50,"fontWeight":"bold","align":"center","baseline":"alphabetic","color":"#000"},"encoding":{"x":{"datum":8.379,"type":"quantitative","scale":{"type":"log","domain":[1,10000]}},"y":{"datum":3614,"type":"quantitative","scale":{"type":"log","domain":[1,10000]}}}},
{"data":{"values":[{}]},"mark":{"type":"text","text":"0.00125 x","fontSize":17,"fontWeight":"bold","align":"left","baseline":"alphabetic","color":"#000"},"encoding":{"x":{"datum":10.43,"type":"quantitative","scale":{"type":"log","domain":[1,10000]}},"y":{"datum":5861,"type":"quantitative","scale":{"type":"log","domain":[1,10000]}}}},
{"data":{"values":[{}]},"mark":{"type":"text","text":"2","fontSize":12,"fontWeight":"bold","align":"left","baseline":"alphabetic","color":"#000"},"encoding":{"x":{"datum":25.31,"type":"quantitative","scale":{"type":"log","domain":[1,10000]}},"y":{"datum":6908,"type":"quantitative","scale":{"type":"log","domain":[1,10000]}}}},
{"data":{"values":[{}]},"mark":{"type":"text","text":"+ 1.66 x + 5","fontSize":17,"fontWeight":"bold","align":"left","baseline":"alphabetic","color":"#000"},"encoding":{"x":{"datum":32.75,"type":"quantitative","scale":{"type":"log","domain":[1,10000]}},"y":{"datum":5861,"type":"quantitative","scale":{"type":"log","domain":[1,10000]}}}},
{"data":{"values":[{}]},"mark":{"type":"text","text":"(x < 541)","fontSize":17,"fontWeight":"bold","align":"left","baseline":"alphabetic","color":"#000"},"encoding":{"x":{"datum":108.8,"type":"quantitative","scale":{"type":"log","domain":[1,10000]}},"y":{"datum":5861,"type":"quantitative","scale":{"type":"log","domain":[1,10000]}}}},
{"data":{"values":[{}]},"mark":{"type":"text","text":"1000","fontSize":17,"fontWeight":"bold","align":"left","baseline":"alphabetic","color":"#000"},"encoding":{"x":{"datum":10.43,"type":"quantitative","scale":{"type":"log","domain":[1,10000]}},"y":{"datum":3342,"type":"quantitative","scale":{"type":"log","domain":[1,10000]}}}},
{"data":{"values":[{}]},"mark":{"type":"text","text":"(x > 541)","fontSize":17,"fontWeight":"bold","align":"left","baseline":"alphabetic","color":"#000"},"encoding":{"x":{"datum":108.8,"type":"quantitative","scale":{"type":"log","domain":[1,10000]}},"y":{"datum":3342,"type":"quantitative","scale":{"type":"log","domain":[1,10000]}}}},
{"data":{"values":[{}]},"mark":{"type":"text","text":"Compile Time Per Trace Chunk","fontSize":35,"fontWeight":"bold","align":"center","baseline":"alphabetic","color":"#000"},"encoding":{"x":{"datum":106.4,"type":"quantitative","scale":{"type":"log","domain":[1,10000]}},"y":{"datum":20540,"type":"quantitative","scale":{"type":"log","domain":[1,10000]}}}},
{"data":{"values":[{}]},"mark":{"type":"text","text":"(N","fontSize":26,"fontWeight":"bold","align":"left","baseline":"alphabetic","color":"#000"},"encoding":{"x":{"datum":5.002,"type":"quantitative","scale":{"type":"log","domain":[1,10000]}},"y":{"datum":0.06494,"type":"quantitative","scale":{"type":"log","domain":[1,10000]}}}},
{"data":{"values":[{}]},"mark":{"type":"text","text":"instructions","fontSize":17,"fontWeight":"bold","align":"left","baseline":"alphabetic","color":"#000"},"encoding":{"x":{"datum":6.659,"type":"quantitative","scale":{"type":"log","domain":[1,10000]}},"y":{"datum":0.05788,"type":"quantitative","scale":{"type":"log","domain":[1,10000]}}}},
{"data":{"values":[{}]},"mark":{"type":"text","text":"+ N","fontSize":26,"fontWeight":"bold","align":"left","baseline":"alphabetic","color":"#000"},"encoding":{"x":{"datum":22.12,"type":"quantitative","scale":{"type":"log","domain":[1,10000]}},"y":{"datum":0.06494,"type":"quantitative","scale":{"type":"log","domain":[1,10000]}}}},
{"data":{"values":[{}]},"mark":{"type":"text","text":"flexible","fontSize":15,"fontWeight":"bold","align":"left","baseline":"alphabetic","color":"#000"},"encoding":{"x":{"datum":35.83,"type":"quantitative","scale":{"type":"log","domain":[1,10000]}},"y":{"datum":0.05788,"type":"quantitative","scale":{"type":"log","domain":[1,10000]}}}},
{"data":{"values":[{}]},"mark":{"type":"text","text":") * (ln(Slack_Product) + 1)","fontSize":26,"fontWeight":"bold","align":"left","baseline":"alphabetic","color":"#000"},"encoding":{"x":{"datum":64.93,"type":"quantitative","scale":{"type":"log","domain":[1,10000]}},"y":{"datum":0.06494,"type":"quantitative","scale":{"type":"log","domain":[1,10000]}}}},
{"data":{"values":[{}]},"mark":{"type":"text","text":"(a)","font":"Liberation Serif","fontSize":30,"align":"center","baseline":"middle","color":"#000"},"encoding":{"x":{"datum":0.1073,"type":"quantitative","scale":{"type":"log","domain":[1,10000]}},"y":{"datum":58.6,"type":"quantitative","scale":{"type":"log","domain":[1,10000]}}}}
]},
{"width":821,"height":448,"layer":[
{"data":{"values":[{}]},"mark":{"type":"rect","fill":"transparent","stroke":"#000","strokeWidth":1},"encoding":{"x":{"datum":0.1922,"type":"quantitative","scale":{"type":"log","domain":[1,10000]}},"x2":{"datum":14810},"y":{"datum":48700,"type":"quantitative","scale":{"type":"log","domain":[1,10000]}},"y2":{"datum":0.03883}}},
{"data":{"values":[{"g":10},{"g":100},{"g":1000}]},"mark":{"type":"rule","color":"#000","strokeWidth":1,"strokeDash":[4,3]},"encoding":{"y":{"field":"g","type":"quantitative","scale":{"type":"log","domain":[1,10000]}}}},
{"data":{"name":"b"},"mark":{"type":"point","shape":"diamond","filled":true,"size":48,"color":"#000080","opacity":1,"strokeWidth":0},"encoding":{"x":{"field":"x","type":"quantitative","scale":{"type":"log","domain":[1,10000]},"axis":{"title":"Heuristical Compile Time Estimator","values":[1,10,100,1000,10000],"format":"d"}},"y":{"field":"y","type":"quantitative","scale":{"type":"log","domain":[1,10000]},"axis":{"title":"Time to Solution (ms)","values":[1,10,100,1000,10000],"format":"d"}}}},
{"data":{"name":"curve"},"mark":{"type":"line","color":"#000","strokeWidth":4},"encoding":{"x":{"field":"x","type":"quantitative","scale":{"type":"log","domain":[1,10000]}},"y":{"field":"y","type":"quantitative","scale":{"type":"log","domain":[1,10000]}}}},
{"data":{"values":[{}]},"mark":{"type":"rect","fill":"#FFFFFF","stroke":"#000","strokeWidth":1},"encoding":{"x":{"datum":1.094,"type":"quantitative","scale":{"type":"log","domain":[1,10000]}},"x2":{"datum":273},"y":{"datum":9204,"type":"quantitative","scale":{"type":"log","domain":[1,10000]}},"y2":{"datum":2794}}},
{"data":{"values":[{}]},"mark":{"type":"rule","color":"#000","strokeWidth":4},"encoding":{"x":{"datum":1.384,"type":"quantitative","scale":{"type":"log","domain":[1,10000]}},"x2":{"datum":2.453},"y":{"datum":5105,"type":"quantitative","scale":{"type":"log","domain":[1,10000]}}}},
{"data":{"values":[{}]},"mark":{"type":"text","text":"f(x) =","fontSize":29,"fontWeight":"bold","align":"left","baseline":"alphabetic","color":"#000"},"encoding":{"x":{"datum":2.871,"type":"quantitative","scale":{"type":"log","domain":[1,10000]}},"y":{"datum":4395,"type":"quantitative","scale":{"type":"log","domain":[1,10000]}}}},
{"data":{"values":[{}]},"mark":{"type":"text","text":"{","fontSize":50,"fontWeight":"bold","align":"center","baseline":"alphabetic","color":"#000"},"encoding":{"x":{"datum":8.379,"type":"quantitative","scale":{"type":"log","domain":[1,10000]}},"y":{"datum":3614,"type":"quantitative","scale":{"type":"log","domain":[1,10000]}}}},
{"data":{"values":[{}]},"mark":{"type":"text","text":"0.00125 x","fontSize":17,"fontWeight":"bold","align":"left","baseline":"alphabetic","color":"#000"},"encoding":{"x":{"datum":10.43,"type":"quantitative","scale":{"type":"log","domain":[1,10000]}},"y":{"datum":5861,"type":"quantitative","scale":{"type":"log","domain":[1,10000]}}}},
{"data":{"values":[{}]},"mark":{"type":"text","text":"2","fontSize":12,"fontWeight":"bold","align":"left","baseline":"alphabetic","color":"#000"},"encoding":{"x":{"datum":25.31,"type":"quantitative","scale":{"type":"log","domain":[1,10000]}},"y":{"datum":6908,"type":"quantitative","scale":{"type":"log","domain":[1,10000]}}}},
{"data":{"values":[{}]},"mark":{"type":"text","text":"+ 1.66 x + 5","fontSize":17,"fontWeight":"bold","align":"left","baseline":"alphabetic","color":"#000"},"encoding":{"x":{"datum":32.75,"type":"quantitative","scale":{"type":"log","domain":[1,10000]}},"y":{"datum":5861,"type":"quantitative","scale":{"type":"log","domain":[1,10000]}}}},
{"data":{"values":[{}]},"mark":{"type":"text","text":"(x < 541)","fontSize":17,"fontWeight":"bold","align":"left","baseline":"alphabetic","color":"#000"},"encoding":{"x":{"datum":108.8,"type":"quantitative","scale":{"type":"log","domain":[1,10000]}},"y":{"datum":5861,"type":"quantitative","scale":{"type":"log","domain":[1,10000]}}}},
{"data":{"values":[{}]},"mark":{"type":"text","text":"1000","fontSize":17,"fontWeight":"bold","align":"left","baseline":"alphabetic","color":"#000"},"encoding":{"x":{"datum":10.43,"type":"quantitative","scale":{"type":"log","domain":[1,10000]}},"y":{"datum":3342,"type":"quantitative","scale":{"type":"log","domain":[1,10000]}}}},
{"data":{"values":[{}]},"mark":{"type":"text","text":"(x > 541)","fontSize":17,"fontWeight":"bold","align":"left","baseline":"alphabetic","color":"#000"},"encoding":{"x":{"datum":108.8,"type":"quantitative","scale":{"type":"log","domain":[1,10000]}},"y":{"datum":3342,"type":"quantitative","scale":{"type":"log","domain":[1,10000]}}}},
{"data":{"values":[{}]},"mark":{"type":"text","text":"Time To Find Solution Per Trace Chunk","fontSize":35,"fontWeight":"bold","align":"center","baseline":"alphabetic","color":"#000"},"encoding":{"x":{"datum":106.4,"type":"quantitative","scale":{"type":"log","domain":[1,10000]}},"y":{"datum":20540,"type":"quantitative","scale":{"type":"log","domain":[1,10000]}}}},
{"data":{"values":[{}]},"mark":{"type":"text","text":"(N","fontSize":26,"fontWeight":"bold","align":"left","baseline":"alphabetic","color":"#000"},"encoding":{"x":{"datum":5.002,"type":"quantitative","scale":{"type":"log","domain":[1,10000]}},"y":{"datum":0.06494,"type":"quantitative","scale":{"type":"log","domain":[1,10000]}}}},
{"data":{"values":[{}]},"mark":{"type":"text","text":"instructions","fontSize":17,"fontWeight":"bold","align":"left","baseline":"alphabetic","color":"#000"},"encoding":{"x":{"datum":6.659,"type":"quantitative","scale":{"type":"log","domain":[1,10000]}},"y":{"datum":0.05788,"type":"quantitative","scale":{"type":"log","domain":[1,10000]}}}},
{"data":{"values":[{}]},"mark":{"type":"text","text":"+ N","fontSize":26,"fontWeight":"bold","align":"left","baseline":"alphabetic","color":"#000"},"encoding":{"x":{"datum":22.12,"type":"quantitative","scale":{"type":"log","domain":[1,10000]}},"y":{"datum":0.06494,"type":"quantitative","scale":{"type":"log","domain":[1,10000]}}}},
{"data":{"values":[{}]},"mark":{"type":"text","text":"flexible","fontSize":15,"fontWeight":"bold","align":"left","baseline":"alphabetic","color":"#000"},"encoding":{"x":{"datum":35.83,"type":"quantitative","scale":{"type":"log","domain":[1,10000]}},"y":{"datum":0.05788,"type":"quantitative","scale":{"type":"log","domain":[1,10000]}}}},
{"data":{"values":[{}]},"mark":{"type":"text","text":") * (ln(Slack_Product) + 1)","fontSize":26,"fontWeight":"bold","align":"left","baseline":"alphabetic","color":"#000"},"encoding":{"x":{"datum":64.93,"type":"quantitative","scale":{"type":"log","domain":[1,10000]}},"y":{"datum":0.06494,"type":"quantitative","scale":{"type":"log","domain":[1,10000]}}}},
{"data":{"values":[{}]},"mark":{"type":"text","text":"(b)","font":"Liberation Serif","fontSize":30,"align":"center","baseline":"middle","color":"#000"},"encoding":{"x":{"datum":0.1073,"type":"quantitative","scale":{"type":"log","domain":[1,10000]}},"y":{"datum":44.9,"type":"quantitative","scale":{"type":"log","domain":[1,10000]}}}}
]}
]}
